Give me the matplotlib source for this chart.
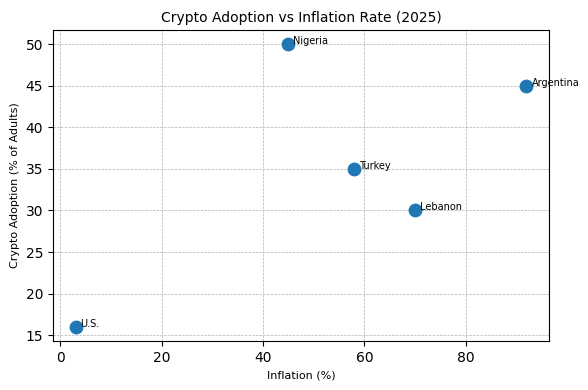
import matplotlib.pyplot as plt

countries = ["U.S.", "Nigeria", "Turkey", "Lebanon", "Argentina"]
inflation = [3, 45, 58, 70, 92]
adoption = [16, 50, 35, 30, 45]

fig, ax = plt.subplots(figsize=(5.88, 3.9), dpi=100)
ax.scatter(inflation, adoption, s=80, color="#1f77b4", zorder=3)
for name, x, y in zip(countries, inflation, adoption):
    ax.text(x + 1, y, name, fontsize=7)

ax.set_title("Crypto Adoption vs Inflation Rate (2025)", fontsize=10)
ax.set_xlabel("Inflation (%)", fontsize=8)
ax.set_ylabel("Crypto Adoption (% of Adults)", fontsize=8)
ax.grid(True, linestyle="--", linewidth=0.5)
fig.subplots_adjust(left=53 / 588, right=549 / 588, top=1 - 30 / 390, bottom=1 - 341 / 390)
fig.savefig("out.png")
